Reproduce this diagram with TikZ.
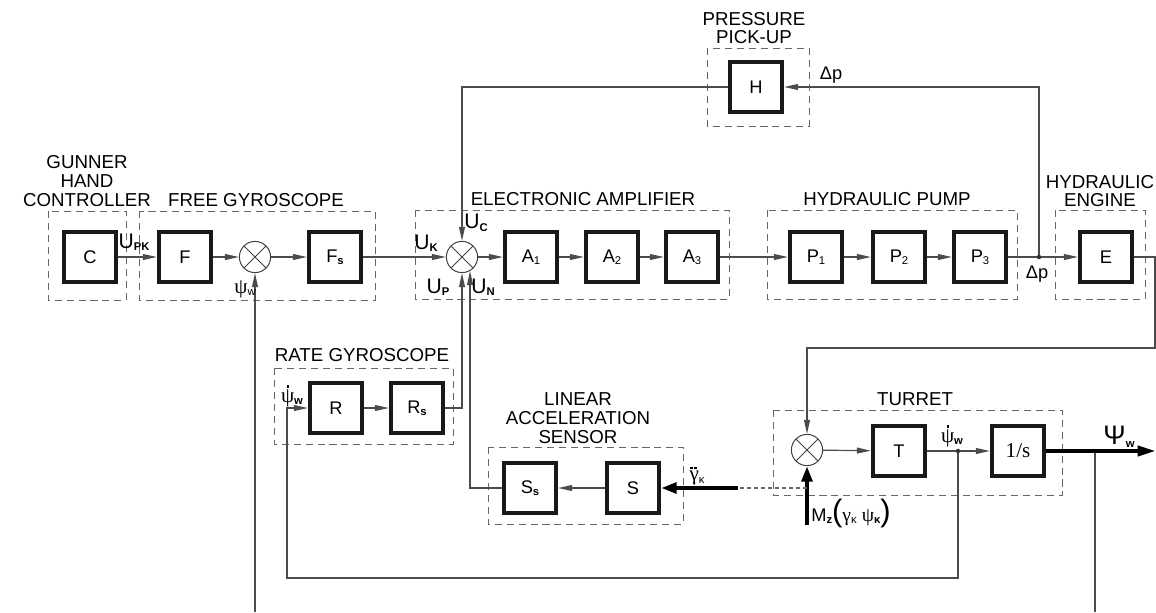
\documentclass[tikz,border=0pt]{standalone}
\usepackage{fontspec}
\setmainfont{Liberation Sans}
\newfontfamily\serifit{Liberation Serif}
\usetikzlibrary{arrows.meta}
\newcommand{\ixb}[1]{\raisebox{-0.25ex}{\fontsize{8}{8}\selectfont\bfseries #1}}
\newcommand{\ixn}[1]{\raisebox{-0.25ex}{\fontsize{8}{8}\selectfont #1}}
\newcommand{\dt}[1]{\ooalign{#1\cr\hidewidth\raisebox{0.8em}{\rule{1.5pt}{1.5pt}}\hidewidth\cr}}
\newcommand{\ddt}[1]{\ooalign{#1\cr\hidewidth\raisebox{0.62em}{\rule{1.5pt}{1.5pt}\hspace{1.4pt}\rule{1.5pt}{1.5pt}}\hspace{1pt}\hidewidth\cr}}
\newcommand{\bigU}{{\fontsize{15}{15}\selectfont U}}

\tikzset{
  blk/.style={draw=black!90, line width=3pt, fill=white, minimum width=1.3cm, minimum height=1.25cm, inner sep=0pt},
  sumnode/.style={circle, draw=black!75, line width=0.7pt, minimum size=0.78cm, inner sep=0pt,
    path picture={\draw[black!75, line width=0.7pt] (path picture bounding box.north west) -- (path picture bounding box.south east)
      (path picture bounding box.north east) -- (path picture bounding box.south west);}},
  group/.style={draw=black!60, dash pattern=on 5pt off 3.5pt, line width=0.7pt},
  thindash/.style={draw=black!60, dash pattern=on 3pt off 2pt, line width=0.8pt},
  wire/.style={draw=black!70, line width=0.85pt},
  sig/.style={wire, -{Triangle[length=10pt,width=4.2pt]}},
  heavy/.style={draw=black, line width=2.8pt, -{Triangle[length=11pt,width=7.5pt]}},
  ttl/.style={align=center, inner sep=0pt, font=\fontsize{13.3}{13.3}\selectfont},
  lbl/.style={inner sep=0pt},
}

\begin{document}
\begin{tikzpicture}[x=0.025cm, y=-0.025cm, font=\fontsize{13}{15}\selectfont]
\useasboundingbox (0,0) rectangle (1156,612);
\coordinate (bot) at (0,612);

% group frames and titles
\draw[group] (48,211) rectangle (126,300) (139,211) rectangle (375,300)
  (415,210) rectangle (729,299) (767,210) rectangle (1017,299)
  (1055,210) rectangle (1145,299) (707,48) rectangle (809,126)
  (274,368) rectangle (453,444) (488,447) rectangle (683,524)
  (773,410) rectangle (1062,495);
\node[ttl] (tGun) at (87,181) {GUNNER\\HAND\\CONTROLLER};
\node[ttl] (tFree) at (256,200) {FREE GYROSCOPE};
\node[ttl] (tAmp) at (583,199) {ELECTRONIC AMPLIFIER};
\node[ttl] (tPump) at (887,199) {HYDRAULIC PUMP};
\node[ttl] (tEng) at (1100,191) {HYDRAULIC\\ENGINE};
\node[ttl] (tPick) at (754,28) {PRESSURE\\PICK-UP};
\node[ttl] (tRate) at (362,355) {RATE GYROSCOPE};
\node[ttl] (tLin) at (578,418) {LINEAR\\ACCELERATION\\SENSOR};
\node[ttl] (tTur) at (915,399) {TURRET};

% blocks
\node[blk] (C) at (90,257) {C};
\node[blk] (F) at (185,257) {F};
\node[sumnode] (s1) at (255,257) {};
\node[blk] (Fs) at (335,257) {F\ixb{s}};
\node[sumnode] (s2) at (462,257) {};
\node[blk] (A1) at (531,257) {A\ixn{1}};
\node[blk] (A2) at (612,257) {A\ixn{2}};
\node[blk] (A3) at (692,257) {A\ixn{3}};
\node[blk] (P1) at (816,257) {P\ixn{1}};
\node[blk] (P2) at (899,257) {P\ixn{2}};
\node[blk] (P3) at (980,257) {P\ixn{3}};
\node[blk] (E) at (1106,257) {E};
\node[blk] (H) at (756,87) {H};
\node[blk] (R) at (336,408) {R};
\node[blk] (Rs) at (417,408) {R\ixb{s}};
\node[blk] (Ss) at (530,488) {S\ixb{s}};
\node[blk] (S) at (633,488) {S};
\node[sumnode] (s3) at (807,450) {};
\node[blk] (T) at (899,451) {T};
\node[blk] (Int) at (1018,451) {\serifit\fontsize{15}{15}\selectfont 1/s};

\coordinate (dP) at (1039,257);
\coordinate (eR) at (1155,348);
\coordinate (jW) at (958,451);
\coordinate (jO) at (1095,451);
\coordinate (outR) at (1156,451);
\coordinate (loopL) at (287,578);
\coordinate (mzB) at (807,525);
\coordinate (dashL) at (738,488);

% connectors
\draw[sig] (C) -- (F);
\draw[sig] (F) -- (s1);
\draw[sig] (s1) -- (Fs);
\draw[sig] (Fs) -- (s2);
\draw[sig] (s2) -- (A1);
\foreach \a/\b in {A1/A2,A2/A3,A3/P1,P1/P2,P2/P3,P3/E}
  \draw[sig] (\a) -- (\b);
\draw[sig] (dP) |- (H.east);
\draw[sig] (H.west) -| (s2.north);
\draw[sig] (E.east) -| (eR) -| (s3.north);
\draw[sig] (Rs.east) -| (s2.south);
\draw[sig] (Ss.west) -| (s2.-60);
\draw[sig] (s1.south |- bot) -- (s1.south);
\draw[sig] (R) -- (Rs);
\draw[sig] (S) -- (Ss);
\draw[sig] (jW) |- (loopL) |- (R.west);
\draw[sig] (s3) -- (T);
\draw[sig] (T) -- (Int);
\draw[wire] (jO) -- (jO |- bot);
\draw[heavy, -{Triangle[length=13pt,width=7pt]}] (Int.east) -- (outR);
\draw[heavy] (mzB) -- (s3.south);
\draw[thindash] (s3.south |- dashL) -- (dashL);
\draw[heavy] (dashL) -- (S.east);
\fill[black!80] (dP) circle (1.6pt) (jW) circle (1.6pt);

% signal labels
\node[lbl] (lUpk) at (134,242) {\bigU\ixb{PK}};
\node[lbl] (lPsiA) at (245,289) {{\serifit\fontsize{15}{15}\selectfont ψ}\ixn{w}};
\node[lbl] (lUc) at (476,223) {\bigU\ixb{C}};
\node[lbl] (lUk) at (426,243) {\bigU\ixb{K}};
\node[lbl] (lUp) at (438,287) {\bigU\ixb{P}};
\node[lbl] (lUn) at (483,287) {\bigU\ixb{N}};
\node[lbl] (lDpA) at (831,75) {Δp};
\node[lbl] (lDpB) at (1037,274) {Δp};
\node[lbl] (lPsiR) at (292,397) {\dt{\serifit\fontsize{15}{15}\selectfont ψ}\ixb{w}};
\node[lbl] (lGam) at (697,477) {\ddt{\serifit\fontsize{15}{15}\selectfont γ}\ixn{κ}};
\node[lbl] (lPsiT) at (952,437) {\dt{\serifit\fontsize{15}{15}\selectfont ψ}\ixb{w}};
\node[lbl] (lPsiO) at (1119,437) {{\fontsize{19}{19}\selectfont Ψ}\ixb{w}};
\node[lbl, anchor=west] (lMz) at (811,513) {M\ixb{z}{\fontsize{22}{22}\selectfont (}{\serifit\fontsize{14}{14}\selectfont γ}\ixn{κ}\ {\serifit\fontsize{14}{14}\selectfont ψ}\ixb{κ}{\fontsize{22}{22}\selectfont )}};
\end{tikzpicture}
\end{document}
